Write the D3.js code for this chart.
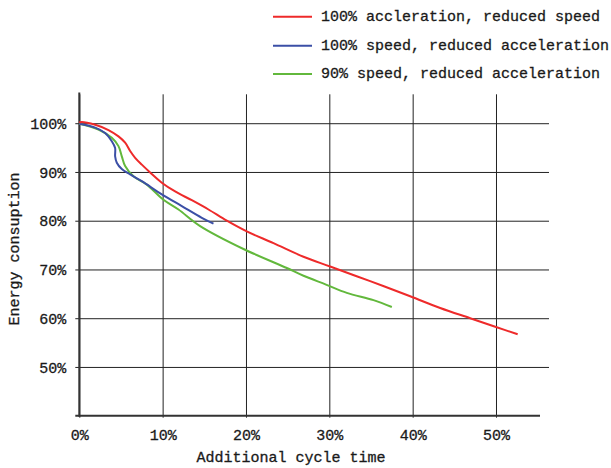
<!DOCTYPE html>
<html>
<head>
<meta charset="utf-8">
<script src="https://cdn.jsdelivr.net/npm/d3@7"></script>
<style>
  html, body { margin: 0; padding: 0; background: #fff; }
  svg text { font-family: "Liberation Mono", "DejaVu Sans Mono", monospace; font-size: 15px; fill: #1a1a1a; stroke: #1a1a1a; stroke-width: 0.3px; }
</style>
</head>
<body>
<svg id="chart" width="611" height="468"></svg>
<script>
// ---- data ----
const seriesNames = ["100% accleration, reduced speed", "100% speed, reduced acceleration", "90% speed, reduced acceleration"];
const seriesColors = ["#ee2a2a", "#3b4fa6", "#62b83c"];

const redX = [0, 0.1, 1.9, 3.5, 4.7, 5.5, 6.1, 6.7, 7.5, 8.5, 9.9, 11.5, 13.5, 15.5, 17.7, 20.1, 23.3, 26.9, 30.1, 34.9, 39.7, 43.3, 46.9, 50.0, 52.6];
const redY = [100.1, 100.2, 99.7, 98.6, 97.3, 96.0, 94.3, 92.9, 91.5, 89.9, 87.8, 86.0, 84.2, 82.3, 80.0, 77.8, 75.4, 72.6, 70.6, 67.6, 64.5, 62.1, 60.0, 58.2, 56.7];

const blueX = [0, 1.9, 3.1, 3.9, 4.3, 4.3, 4.5, 5.1, 6.1, 7.5, 9.9, 12.3, 14.7, 16.1];
const blueY = [99.9, 99.1, 98.0, 96.3, 94.9, 93.2, 91.9, 90.6, 89.5, 88.1, 85.4, 83.0, 80.6, 79.4];

const greenX = [0, 2.3, 3.9, 4.7, 5.1, 5.5, 6.5, 8.1, 10.1, 11.9, 14.5, 19.7, 24.9, 26.9, 29.6, 32.1, 35.3, 37.5];
const greenY = [99.9, 98.7, 97.0, 95.3, 93.2, 91.2, 89.1, 87.4, 84.3, 82.3, 78.9, 74.2, 70.3, 68.7, 66.9, 65.2, 63.7, 62.3];

const xTicks = [0, 10, 20, 30, 40, 50];
const yTicks = [50, 60, 70, 80, 90, 100];
const xTitle = "Additional cycle time";
const yTitle = "Energy consuption";

// ---- layout ----
const svg = d3.select("#chart");
const x0 = 79.3, x1 = 540, gridRight = 549;
const yTop = 92.5, yBottom = 415.7;

const x = d3.scaleLinear().domain([0, 55.28]).range([x0, x1]);
const y = d3.scaleLinear().domain([40, 106.3]).range([yBottom, yTop]);

// horizontal grid via axisLeft
const yAxis = svg.append("g").attr("transform", `translate(${x0},0)`)
  .call(d3.axisLeft(y).tickValues(yTicks).tickFormat(d => d + "%").tickSizeOuter(0).tickSizeInner(4).tickPadding(9));
yAxis.select(".domain").remove();
yAxis.selectAll(".tick line").attr("x1", -4).attr("x2", gridRight - x0).attr("stroke", "#222").attr("stroke-width", 1);
yAxis.selectAll(".tick text").attr("dy", "0.35em").style("font-size", "15px").attr("fill", "#1a1a1a");

// vertical grid via axisBottom
const xAxis = svg.append("g").attr("transform", `translate(0,${yBottom})`)
  .call(d3.axisBottom(x).tickValues(xTicks).tickFormat(d => d + "%").tickSizeOuter(0).tickSizeInner(2).tickPadding(12));
xAxis.select(".domain").remove();
xAxis.selectAll(".tick line").attr("y1", 2).attr("y2", -(yBottom - 94.3)).attr("stroke", "#222").attr("stroke-width", 1);
xAxis.selectAll(".tick text").style("font-size", "15px").attr("fill", "#1a1a1a");

// axis lines
svg.append("line").attr("x1", x0).attr("x2", x0).attr("y1", yTop).attr("y2", yBottom + 1)
  .attr("stroke", "#333").attr("stroke-width", 2);
svg.append("line").attr("x1", x0 - 4).attr("x2", x1).attr("y1", yBottom).attr("y2", yBottom)
  .attr("stroke", "#333").attr("stroke-width", 2);

// series
const allSeries = [
  d3.zip(redX, redY),
  d3.zip(blueX, blueY),
  d3.zip(greenX, greenY)
];
[2, 1, 0].forEach(i => {
  svg.append("path").datum(allSeries[i])
    .attr("fill", "none").attr("stroke", seriesColors[i]).attr("stroke-width", 2)
    .attr("stroke-linejoin", "round")
    .attr("d", d3.line().x(d => x(d[0])).y(d => y(d[1])).curve(d3.curveCatmullRom.alpha(0.5)));
});

// titles
svg.append("text").attr("x", 291).attr("y", 458).attr("text-anchor", "middle")
  .attr("dominant-baseline", "middle").text(xTitle);
svg.append("text").attr("transform", "translate(15,249) rotate(-90)").attr("text-anchor", "middle")
  .attr("dominant-baseline", "middle").text(yTitle);

// legend
const legY = [16.7, 45.7, 74];
seriesNames.forEach((n, i) => {
  svg.append("line").attr("x1", 273).attr("x2", 312).attr("y1", legY[i]).attr("y2", legY[i])
    .attr("stroke", seriesColors[i]).attr("stroke-width", 2);
  svg.append("text").attr("x", 321).attr("y", legY[i]).attr("dominant-baseline", "middle").text(n);
});
</script>
</body>
</html>
